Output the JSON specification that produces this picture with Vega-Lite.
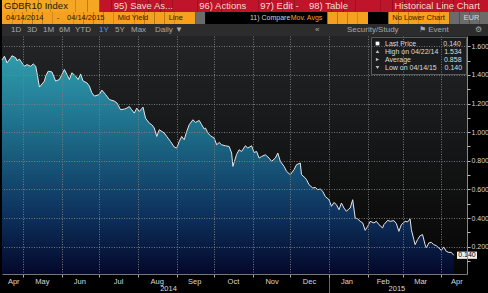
{
  "$schema": "https://vega.github.io/schema/vega-lite/v6.json",
  "background": "#000000",
  "padding": 0,
  "spacing": 0,
  "bounds": "flush",
  "config": {
    "view": {"stroke": null},
    "font": "Liberation Sans",
    "axis": {"labelFont": "Liberation Sans"},
    "legend": {"labelFont": "Liberation Sans"}
  },
  "resolve": {
    "scale": {"x": "independent", "y": "independent", "color": "independent", "shape": "independent"},
    "legend": {"color": "independent", "shape": "independent"}
  },
  "vconcat": [
    {
      "width": 488,
      "height": 12,
      "data": {"values": [
        {"col": 0, "kind": "ticker", "label": "GDBR10 Index"},
        {"col": 1, "kind": "ticker", "label": ""},
        {"col": 2, "kind": "ticker", "label": ""},
        {"col": 3, "kind": "ticker", "label": ""},
        {"col": 4, "kind": "ticker", "label": ""},
        {"col": 5, "kind": "ticker", "label": ""},
        {"col": 6, "kind": "ticker", "label": ""},
        {"col": 7, "kind": "ticker", "label": ""},
        {"col": 8, "kind": "menu", "label": ""},
        {"col": 9, "kind": "menu", "label": "95) Save As..."},
        {"col": 10, "kind": "menu", "label": ""},
        {"col": 11, "kind": "menu", "label": ""},
        {"col": 12, "kind": "menu", "label": ""},
        {"col": 13, "kind": "menu", "label": ""},
        {"col": 14, "kind": "menu", "label": ""},
        {"col": 15, "kind": "menu", "label": ""},
        {"col": 16, "kind": "menu", "label": "96) Actions"},
        {"col": 17, "kind": "menu", "label": ""},
        {"col": 18, "kind": "menu", "label": ""},
        {"col": 19, "kind": "menu", "label": ""},
        {"col": 20, "kind": "menu", "label": ""},
        {"col": 21, "kind": "menu", "label": "97) Edit -"},
        {"col": 22, "kind": "menu", "label": ""},
        {"col": 23, "kind": "menu", "label": ""},
        {"col": 24, "kind": "menu", "label": ""},
        {"col": 25, "kind": "menu", "label": "98) Table"},
        {"col": 26, "kind": "menu", "label": ""},
        {"col": 27, "kind": "menu", "label": ""},
        {"col": 28, "kind": "menu", "label": ""},
        {"col": 29, "kind": "menu", "label": ""},
        {"col": 30, "kind": "menu", "label": ""},
        {"col": 31, "kind": "menu", "label": ""},
        {"col": 32, "kind": "menu", "label": "Historical Line Chart"},
        {"col": 33, "kind": "menu", "label": ""},
        {"col": 34, "kind": "menu", "label": ""},
        {"col": 35, "kind": "menu", "label": ""},
        {"col": 36, "kind": "menu", "label": ""},
        {"col": 37, "kind": "menu", "label": ""},
        {"col": 38, "kind": "menu", "label": ""},
        {"col": 39, "kind": "menu", "label": ""}
      ]},
      "layer": [
        {
          "mark": {"type": "rect"},
          "encoding": {
            "x": {"field": "col", "type": "ordinal", "scale": {"type": "band", "paddingInner": 0, "paddingOuter": 0}, "axis": null},
            "color": {"field": "kind", "type": "nominal", "legend": null,
              "scale": {"domain": ["ticker", "menu", "field", "blank", "link", "drop", "bar", "active"],
                        "range": ["#f5a623", "#c0142a", "#f5a01e", "#000000", "#000000", "#6b6b6b", "#2c2c2c", "#2c2c2c"]}}
          }
        },
        {
          "transform": [{"filter": "datum.label != ''"}],
          "mark": {"type": "text", "align": "left", "dx": 2, "fontSize": 9.5, "font": "Liberation Sans"},
          "encoding": {
            "x": {"field": "col", "type": "ordinal", "bandPosition": 0, "axis": null},
            "text": {"field": "label"},
            "color": {"condition": [
              {"test": "datum.kind == 'ticker' || datum.kind == 'field'", "value": "#2a1a00"},
              {"test": "datum.kind == 'menu'", "value": "#f4dcd0"}
            ], "value": "#c8c8c8"}
          }
        }
      ]
    },
    {
      "width": 488,
      "height": 12,
      "data": {"values": [
        {"col": 0, "kind": "field", "label": "04/14/2014"},
        {"col": 1, "kind": "field", "label": ""},
        {"col": 2, "kind": "field", "label": ""},
        {"col": 3, "kind": "field", "label": ""},
        {"col": 4, "kind": "field", "label": ""},
        {"col": 5, "kind": "field", "label": "-"},
        {"col": 6, "kind": "field", "label": "04/14/2015"},
        {"col": 7, "kind": "field", "label": ""},
        {"col": 8, "kind": "field", "label": ""},
        {"col": 9, "kind": "field", "label": ""},
        {"col": 10, "kind": "field", "label": ""},
        {"col": 11, "kind": "field", "label": "Mid Yield"},
        {"col": 12, "kind": "field", "label": ""},
        {"col": 13, "kind": "field", "label": ""},
        {"col": 14, "kind": "field", "label": ""},
        {"col": 15, "kind": "field", "label": ""},
        {"col": 16, "kind": "field", "label": "Line"},
        {"col": 17, "kind": "field", "label": ""},
        {"col": 18, "kind": "field", "label": ""},
        {"col": 19, "kind": "drop", "label": ""},
        {"col": 20, "kind": "blank", "label": ""},
        {"col": 21, "kind": "blank", "label": ""},
        {"col": 22, "kind": "blank", "label": ""},
        {"col": 23, "kind": "blank", "label": ""},
        {"col": 24, "kind": "blank", "label": "11) Compare"},
        {"col": 25, "kind": "blank", "label": ""},
        {"col": 26, "kind": "blank", "label": ""},
        {"col": 27, "kind": "blank", "label": ""},
        {"col": 28, "kind": "link", "label": "Mov. Avgs"},
        {"col": 29, "kind": "blank", "label": ""},
        {"col": 30, "kind": "blank", "label": ""},
        {"col": 31, "kind": "blank", "label": ""},
        {"col": 32, "kind": "field", "label": ""},
        {"col": 33, "kind": "field", "label": ""},
        {"col": 34, "kind": "field", "label": ""},
        {"col": 35, "kind": "field", "label": ""},
        {"col": 36, "kind": "blank", "label": ""},
        {"col": 37, "kind": "blank", "label": ""},
        {"col": 38, "kind": "field", "label": "No Lower Chart"},
        {"col": 39, "kind": "field", "label": ""},
        {"col": 40, "kind": "field", "label": ""},
        {"col": 41, "kind": "field", "label": ""},
        {"col": 42, "kind": "field", "label": ""},
        {"col": 43, "kind": "field", "label": ""},
        {"col": 44, "kind": "drop", "label": ""},
        {"col": 45, "kind": "drop", "label": "EUR"},
        {"col": 46, "kind": "drop", "label": ""},
        {"col": 47, "kind": "drop", "label": ""}
      ]},
      "layer": [
        {
          "mark": {"type": "rect"},
          "encoding": {
            "x": {"field": "col", "type": "ordinal", "scale": {"type": "band", "paddingInner": 0, "paddingOuter": 0}, "axis": null},
            "color": {"field": "kind", "type": "nominal", "legend": null,
              "scale": {"domain": ["ticker", "menu", "field", "blank", "link", "drop", "bar", "active"],
                        "range": ["#f5a623", "#c0142a", "#f5a01e", "#000000", "#000000", "#6b6b6b", "#2c2c2c", "#2c2c2c"]}}
          }
        },
        {
          "transform": [{"filter": "datum.label != ''"}],
          "mark": {"type": "text", "align": "left", "dx": 4, "font": "Liberation Sans"},
          "encoding": {
            "x": {"field": "col", "type": "ordinal", "bandPosition": 0, "axis": null},
            "text": {"field": "label"},
            "size": {"condition": {"test": "datum.kind == 'blank' || datum.kind == 'link'", "value": 7}, "value": 7.5},
            "color": {"condition": [
              {"test": "datum.kind == 'ticker' || datum.kind == 'field'", "value": "#2a1a00"},
              {"test": "datum.kind == 'link'", "value": "#f5a623"},
              {"test": "datum.kind == 'drop'", "value": "#d8d8d8"}
            ], "value": "#d0d0d0"}
          }
        }
      ]
    },
    {
      "width": 488,
      "height": 12,
      "layer": [
        {
          "data": {"values": [{}]},
          "mark": {"type": "rect", "color": "#2c2c2c"},
          "encoding": {}
        },
        {
          "data": {"values": [
            {"col": 1, "kind": "period", "label": "1D"},
            {"col": 3, "kind": "period", "label": "3D"},
            {"col": 5, "kind": "period", "label": "1M"},
            {"col": 7, "kind": "period", "label": "6M"},
            {"col": 9, "kind": "period", "label": "YTD"},
            {"col": 12, "kind": "active", "label": "1Y"},
            {"col": 14, "kind": "period", "label": "5Y"},
            {"col": 16, "kind": "period", "label": "Max"},
            {"col": 19, "kind": "period", "label": "Daily ▼"},
            {"col": 39, "kind": "button", "label": "«"},
            {"col": 43, "kind": "button", "label": "Security/Study"},
            {"col": 52, "kind": "button", "label": "⚑ Event"},
            {"col": 59, "kind": "button", "label": "⚙"}
          ]},
          "mark": {"type": "text", "align": "left", "dx": 1, "fontSize": 8, "font": "Liberation Sans"},
          "encoding": {
            "x": {"field": "col", "type": "ordinal", "bandPosition": 0, "axis": null,
              "scale": {"type": "band", "paddingInner": 0, "paddingOuter": 0,
                "domain": [0,1,2,3,4,5,6,7,8,9,10,11,12,13,14,15,16,17,18,19,20,21,22,23,24,25,26,27,28,29,30,31,32,33,34,35,36,37,38,39,40,41,42,43,44,45,46,47,48,49,50,51,52,53,54,55,56,57,58,59,60]}},
            "text": {"field": "label"},
            "color": {"condition": [
              {"test": "datum.kind == 'active'", "value": "#4a9cff"}
            ], "value": "#a8a8a8"}
          }
        }
      ]
    },
    {
      "width": 465,
      "height": 238,
      "data": {"values": [
        {"d": "2014-04-14", "v": 1.505},
        {"d": "2014-04-16", "v": 1.531},
        {"d": "2014-04-18", "v": 1.484},
        {"d": "2014-04-21", "v": 1.519},
        {"d": "2014-04-22", "v": 1.534},
        {"d": "2014-04-25", "v": 1.520},
        {"d": "2014-04-26", "v": 1.500},
        {"d": "2014-04-28", "v": 1.510},
        {"d": "2014-04-30", "v": 1.484},
        {"d": "2014-05-02", "v": 1.461},
        {"d": "2014-05-04", "v": 1.472},
        {"d": "2014-05-07", "v": 1.460},
        {"d": "2014-05-09", "v": 1.477},
        {"d": "2014-05-11", "v": 1.461},
        {"d": "2014-05-12", "v": 1.415},
        {"d": "2014-05-14", "v": 1.315},
        {"d": "2014-05-18", "v": 1.357},
        {"d": "2014-05-19", "v": 1.391},
        {"d": "2014-05-21", "v": 1.426},
        {"d": "2014-05-24", "v": 1.421},
        {"d": "2014-05-27", "v": 1.357},
        {"d": "2014-05-30", "v": 1.368},
        {"d": "2014-06-01", "v": 1.403},
        {"d": "2014-06-03", "v": 1.438},
        {"d": "2014-06-05", "v": 1.403},
        {"d": "2014-06-07", "v": 1.368},
        {"d": "2014-06-09", "v": 1.415},
        {"d": "2014-06-12", "v": 1.391},
        {"d": "2014-06-14", "v": 1.368},
        {"d": "2014-06-16", "v": 1.407},
        {"d": "2014-06-18", "v": 1.357},
        {"d": "2014-06-21", "v": 1.345},
        {"d": "2014-06-23", "v": 1.322},
        {"d": "2014-06-25", "v": 1.275},
        {"d": "2014-06-27", "v": 1.252},
        {"d": "2014-07-01", "v": 1.263},
        {"d": "2014-07-03", "v": 1.294},
        {"d": "2014-07-06", "v": 1.263},
        {"d": "2014-07-09", "v": 1.228},
        {"d": "2014-07-13", "v": 1.217},
        {"d": "2014-07-15", "v": 1.205},
        {"d": "2014-07-18", "v": 1.157},
        {"d": "2014-07-21", "v": 1.161},
        {"d": "2014-07-23", "v": 1.168},
        {"d": "2014-07-25", "v": 1.179},
        {"d": "2014-07-27", "v": 1.156},
        {"d": "2014-07-29", "v": 1.133},
        {"d": "2014-07-31", "v": 1.168},
        {"d": "2014-08-02", "v": 1.144},
        {"d": "2014-08-05", "v": 1.175},
        {"d": "2014-08-07", "v": 1.098},
        {"d": "2014-08-10", "v": 1.063},
        {"d": "2014-08-12", "v": 1.052},
        {"d": "2014-08-14", "v": 1.029},
        {"d": "2014-08-16", "v": 0.970},
        {"d": "2014-08-18", "v": 1.017},
        {"d": "2014-08-22", "v": 0.994},
        {"d": "2014-08-24", "v": 0.970},
        {"d": "2014-08-27", "v": 0.935},
        {"d": "2014-08-30", "v": 0.896},
        {"d": "2014-09-01", "v": 0.889},
        {"d": "2014-09-03", "v": 0.935},
        {"d": "2014-09-05", "v": 0.970},
        {"d": "2014-09-07", "v": 0.947},
        {"d": "2014-09-09", "v": 1.005},
        {"d": "2014-09-11", "v": 1.052},
        {"d": "2014-09-14", "v": 1.087},
        {"d": "2014-09-16", "v": 1.068},
        {"d": "2014-09-19", "v": 1.082},
        {"d": "2014-09-21", "v": 1.052},
        {"d": "2014-09-23", "v": 1.022},
        {"d": "2014-09-24", "v": 1.029},
        {"d": "2014-09-26", "v": 0.994},
        {"d": "2014-09-28", "v": 0.975},
        {"d": "2014-10-01", "v": 0.959},
        {"d": "2014-10-03", "v": 0.912},
        {"d": "2014-10-05", "v": 0.928},
        {"d": "2014-10-07", "v": 0.912},
        {"d": "2014-10-10", "v": 0.905},
        {"d": "2014-10-13", "v": 0.900},
        {"d": "2014-10-15", "v": 0.854},
        {"d": "2014-10-16", "v": 0.761},
        {"d": "2014-10-19", "v": 0.845},
        {"d": "2014-10-21", "v": 0.877},
        {"d": "2014-10-23", "v": 0.865},
        {"d": "2014-10-26", "v": 0.905},
        {"d": "2014-10-28", "v": 0.889},
        {"d": "2014-10-31", "v": 0.905},
        {"d": "2014-11-02", "v": 0.858},
        {"d": "2014-11-04", "v": 0.865},
        {"d": "2014-11-06", "v": 0.819},
        {"d": "2014-11-08", "v": 0.830},
        {"d": "2014-11-11", "v": 0.842},
        {"d": "2014-11-14", "v": 0.819},
        {"d": "2014-11-16", "v": 0.796},
        {"d": "2014-11-19", "v": 0.819},
        {"d": "2014-11-21", "v": 0.854},
        {"d": "2014-11-23", "v": 0.796},
        {"d": "2014-11-26", "v": 0.761},
        {"d": "2014-11-28", "v": 0.726},
        {"d": "2014-12-01", "v": 0.703},
        {"d": "2014-12-04", "v": 0.738},
        {"d": "2014-12-06", "v": 0.773},
        {"d": "2014-12-09", "v": 0.784},
        {"d": "2014-12-10", "v": 0.703},
        {"d": "2014-12-13", "v": 0.680},
        {"d": "2014-12-14", "v": 0.668},
        {"d": "2014-12-16", "v": 0.633},
        {"d": "2014-12-19", "v": 0.610},
        {"d": "2014-12-21", "v": 0.614},
        {"d": "2014-12-23", "v": 0.598},
        {"d": "2014-12-25", "v": 0.603},
        {"d": "2014-12-27", "v": 0.586},
        {"d": "2014-12-29", "v": 0.551},
        {"d": "2015-01-01", "v": 0.528},
        {"d": "2015-01-03", "v": 0.482},
        {"d": "2015-01-05", "v": 0.509},
        {"d": "2015-01-07", "v": 0.493},
        {"d": "2015-01-09", "v": 0.458},
        {"d": "2015-01-11", "v": 0.505},
        {"d": "2015-01-13", "v": 0.470},
        {"d": "2015-01-15", "v": 0.447},
        {"d": "2015-01-17", "v": 0.465},
        {"d": "2015-01-18", "v": 0.470},
        {"d": "2015-01-20", "v": 0.528},
        {"d": "2015-01-22", "v": 0.400},
        {"d": "2015-01-24", "v": 0.394},
        {"d": "2015-01-26", "v": 0.377},
        {"d": "2015-01-28", "v": 0.366},
        {"d": "2015-01-30", "v": 0.314},
        {"d": "2015-02-01", "v": 0.342},
        {"d": "2015-02-03", "v": 0.377},
        {"d": "2015-02-06", "v": 0.366},
        {"d": "2015-02-08", "v": 0.377},
        {"d": "2015-02-10", "v": 0.354},
        {"d": "2015-02-13", "v": 0.331},
        {"d": "2015-02-14", "v": 0.354},
        {"d": "2015-02-17", "v": 0.384},
        {"d": "2015-02-19", "v": 0.377},
        {"d": "2015-02-22", "v": 0.382},
        {"d": "2015-02-24", "v": 0.361},
        {"d": "2015-02-26", "v": 0.307},
        {"d": "2015-02-28", "v": 0.354},
        {"d": "2015-03-03", "v": 0.377},
        {"d": "2015-03-05", "v": 0.373},
        {"d": "2015-03-07", "v": 0.394},
        {"d": "2015-03-08", "v": 0.319},
        {"d": "2015-03-10", "v": 0.249},
        {"d": "2015-03-11", "v": 0.214},
        {"d": "2015-03-13", "v": 0.249},
        {"d": "2015-03-15", "v": 0.277},
        {"d": "2015-03-17", "v": 0.284},
        {"d": "2015-03-19", "v": 0.214},
        {"d": "2015-03-20", "v": 0.191},
        {"d": "2015-03-22", "v": 0.226},
        {"d": "2015-03-24", "v": 0.230},
        {"d": "2015-03-26", "v": 0.214},
        {"d": "2015-03-28", "v": 0.207},
        {"d": "2015-03-30", "v": 0.191},
        {"d": "2015-04-01", "v": 0.174},
        {"d": "2015-04-03", "v": 0.198},
        {"d": "2015-04-05", "v": 0.167},
        {"d": "2015-04-07", "v": 0.160},
        {"d": "2015-04-09", "v": 0.160},
        {"d": "2015-04-11", "v": 0.140}
      ]},
      "resolve": {"axis": {"x": "independent", "y": "independent"}},
      "layer": [
        {
          "data": {"values": [{}]},
          "mark": {"type": "rect", "color": {"gradient": "linear", "x1": 0, "y1": 0, "x2": 0, "y2": 1,
            "stops": [{"offset": 0, "color": "#232426"}, {"offset": 1, "color": "#060606"}]}},
          "encoding": {}
        },
        {
          "mark": {"type": "area", "clip": true, "color": {"gradient": "linear", "x1": 0, "y1": 0, "x2": 0, "y2": 1,
            "stops": [
              {"offset": 0, "color": "#2f9cae"},
              {"offset": 0.35, "color": "#1d6c88"},
              {"offset": 0.7, "color": "#0e3560"},
              {"offset": 1, "color": "#04072a"}
            ]}},
          "encoding": {
            "x": {"field": "d", "type": "temporal",
              "scale": {"type": "utc", "domain": [
                {"year": 2014, "month": 4, "date": 14, "utc": true},
                {"year": 2015, "month": 4, "date": 21, "hours": 14, "utc": true}
              ]},
              "axis": null},
            "y": {"field": "v", "type": "quantitative",
              "scale": {"domain": [0.009, 1.672], "nice": false, "zero": false},
              "axis": null}
          }
        },
        {
          "mark": {"type": "line", "color": "#e6e6e6", "strokeWidth": 1},
          "encoding": {
            "x": {"field": "d", "type": "temporal",
              "axis": {"orient": "bottom", "title": null, "format": "%b",
                "values": [
                  {"year": 2014, "month": 4, "date": 23, "utc": true},
                  {"year": 2014, "month": 5, "date": 16, "utc": true},
                  {"year": 2014, "month": 6, "date": 15, "utc": true},
                  {"year": 2014, "month": 7, "date": 16, "utc": true},
                  {"year": 2014, "month": 8, "date": 16, "utc": true},
                  {"year": 2014, "month": 9, "date": 15, "utc": true},
                  {"year": 2014, "month": 10, "date": 16, "utc": true},
                  {"year": 2014, "month": 11, "date": 16, "utc": true},
                  {"year": 2014, "month": 12, "date": 16, "utc": true},
                  {"year": 2015, "month": 1, "date": 15, "utc": true},
                  {"year": 2015, "month": 2, "date": 13, "utc": true},
                  {"year": 2015, "month": 3, "date": 15, "utc": true},
                  {"year": 2015, "month": 4, "date": 13, "utc": true}
                ],
                "ticks": false, "domain": false, "grid": false, "labelFlush": false, "labelOverlap": false,
                "labelFontSize": 7.5, "labelColor": "#d8d8d8", "labelPadding": 3}},
            "y": {"field": "v", "type": "quantitative",
              "axis": {"orient": "right", "title": null,
                "values": [0.2, 0.4, 0.6, 0.8, 1.0, 1.2, 1.4, 1.6],
                "format": ".3f",
                "tickSize": 3, "tickColor": "#bbbbbb",
                "labelFontSize": 7, "labelColor": "#d8d8d8", "labelPadding": 1,
                "domain": true, "domainColor": "#888888",
                "grid": true, "gridColor": "#808080", "gridDash": [1, 1.5], "gridOpacity": 0.9,
                "zindex": 1}}
          }
        },
        {
          "transform": [{"filter": "datum.d == '2014-04-14'"}],
          "mark": {"type": "point", "opacity": 0},
          "encoding": {
            "x": {"field": "d", "type": "temporal",
              "axis": {"orient": "bottom", "title": null, "labels": false,
                "values": [
                  {"year": 2014, "month": 5, "date": 1, "utc": true},
                  {"year": 2014, "month": 6, "date": 1, "utc": true},
                  {"year": 2014, "month": 7, "date": 1, "utc": true},
                  {"year": 2014, "month": 8, "date": 1, "utc": true},
                  {"year": 2014, "month": 9, "date": 1, "utc": true},
                  {"year": 2014, "month": 10, "date": 1, "utc": true},
                  {"year": 2014, "month": 11, "date": 1, "utc": true},
                  {"year": 2014, "month": 12, "date": 1, "utc": true},
                  {"year": 2015, "month": 1, "date": 1, "utc": true},
                  {"year": 2015, "month": 2, "date": 1, "utc": true},
                  {"year": 2015, "month": 3, "date": 1, "utc": true},
                  {"year": 2015, "month": 4, "date": 1, "utc": true}
                ],
                "ticks": true, "tickSize": 3, "tickColor": "#aaaaaa",
                "grid": true, "gridColor": "#808080", "gridDash": [1, 1.5], "gridOpacity": 0.9,
                "domain": true, "domainColor": "#777777", "zindex": 1}},
            "y": {"field": "v", "type": "quantitative",
              "axis": {"orient": "right", "title": null, "labels": false, "grid": false, "domain": false,
                "values": [0.1, 0.3, 0.5, 0.7, 0.9, 1.1, 1.3, 1.5],
                "tickSize": 3, "tickColor": "#bbbbbb", "zindex": 1}}
          }
        },
        {
          "transform": [{"filter": "datum.d == '2014-04-14'"}],
          "mark": {"type": "point", "opacity": 0},
          "encoding": {
            "x": {"field": "d", "type": "temporal",
              "axis": {"orient": "bottom", "title": null, "format": "%Y",
                "values": [
                  {"year": 2014, "month": 8, "date": 25, "utc": true},
                  {"year": 2015, "month": 1, "date": 1, "utc": true},
                  {"year": 2015, "month": 2, "date": 24, "utc": true}
                ],
                "labelExpr": "utcmonth(datum.value) == 0 ? '' : datum.label",
                "ticks": true, "tickSize": 19, "tickColor": "#666666",
                "tickOpacity": {"condition": {"test": "utcmonth(datum.value) == 0", "value": 1}, "value": 0},
                "domain": false, "grid": false, "labelFlush": false, "labelOverlap": false,
                "labelFontSize": 7.5, "labelColor": "#d8d8d8", "labelPadding": -9}},
            "y": {"field": "v", "type": "quantitative", "axis": null}
          }
        },
        {
          "data": {"values": [{"last": 0.14, "txt": "0.140"}]},
          "layer": [
            {
              "mark": {"type": "point", "shape": "M-1,-0.36H1V0.36H-1Z", "size": 400, "filled": true, "color": "#f0f0f0", "opacity": 1},
              "encoding": {
                "x": {"datum": {"year": 2015, "month": 4, "date": 21, "hours": 14, "utc": true}, "type": "temporal", "axis": null},
                "y": {"field": "last", "type": "quantitative", "axis": null}
              }
            },
            {
              "mark": {"type": "text", "fontSize": 7, "color": "#000000", "font": "Liberation Sans"},
              "encoding": {
                "x": {"datum": {"year": 2015, "month": 4, "date": 21, "hours": 14, "utc": true}, "type": "temporal", "axis": null},
                "y": {"field": "last", "type": "quantitative", "axis": null},
                "text": {"field": "txt"}
              }
            }
          ]
        },
        {
          "data": {"values": [
            {"stat": "Last Price\u00a0\u00a0\u00a0\u00a0\u00a0\u00a0\u00a0\u00a0\u00a0\u00a0\u00a0\u00a0\u00a0\u00a00.140", "val": 0.14},
            {"stat": "High on 04/22/14\u00a0\u00a0\u00a01.534", "val": 1.534},
            {"stat": "Average\u00a0\u00a0\u00a0\u00a0\u00a0\u00a0\u00a0\u00a0\u00a0\u00a0\u00a0\u00a0\u00a0\u00a0\u00a0\u00a0\u00a00.858", "val": 0.858},
            {"stat": "Low on 04/14/15\u00a0\u00a0\u00a0\u00a00.140", "val": 0.14}
          ]},
          "mark": {"type": "point", "filled": true, "clip": true, "size": 14, "opacity": 1},
          "encoding": {
            "x": {"datum": {"year": 2013, "month": 1, "date": 1, "utc": true}, "type": "temporal", "axis": null},
            "y": {"field": "val", "type": "quantitative", "axis": null},
            "shape": {"field": "stat", "type": "nominal", "sort": null,
              "scale": {"range": ["square", "triangle-up", "triangle-right", "triangle-down"]},
              "legend": {"title": null, "orient": "top-right", "offset": 1, "fillColor": "#1b1c1e", "strokeColor": "#5a5a5a",
                "padding": 3, "rowPadding": 0, "labelFontSize": 7, "labelColor": "#dddddd", "symbolSize": 14,
                "clipHeight": 7, "labelLimit": 300, "labelOffset": 4}},
            "color": {"field": "stat", "type": "nominal", "sort": null,
              "scale": {"range": ["#ffffff", "#bbbbbb", "#bbbbbb", "#bbbbbb"]},
              "legend": {"title": null, "orient": "top-right", "offset": 1, "fillColor": "#1b1c1e", "strokeColor": "#5a5a5a",
                "padding": 3, "rowPadding": 0, "labelFontSize": 7, "labelColor": "#dddddd", "symbolSize": 14,
                "clipHeight": 7, "labelLimit": 300, "labelOffset": 4}}
          }
        }
      ]
    }
  ]
}
